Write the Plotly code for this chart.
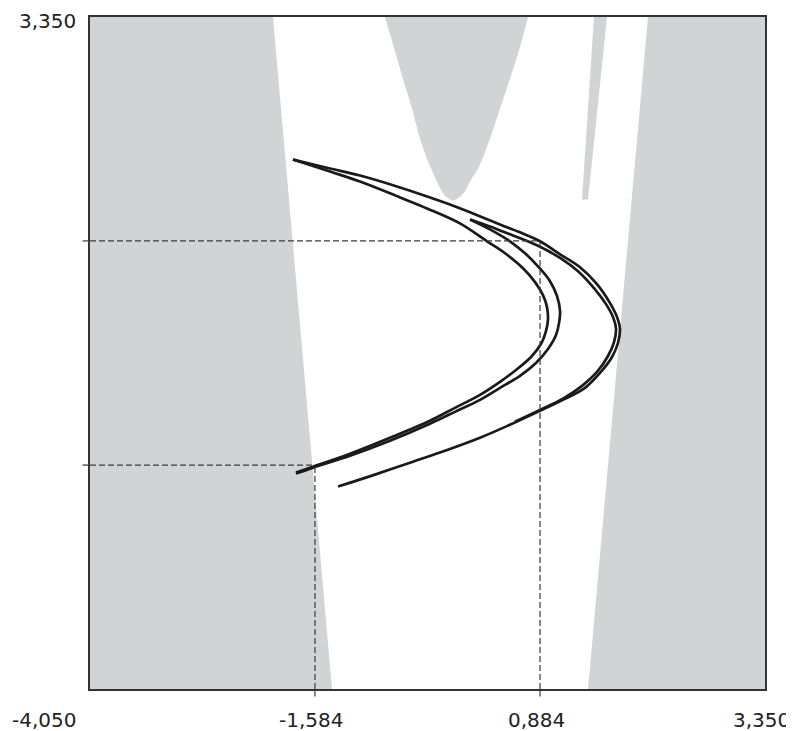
import plotly.graph_objects as go

# Axis range and tick values
axis_min, axis_max = -4.05, 3.35
fixed_pts = [-1.584, 0.884]
x_tick_vals = [-1.584, 0.884, 3.35]
x_tick_text = ["-1,584", "0,884", "3,350"]
corner_label = "-4,050"
y_top_label = "3,350"

# Traced attractor strands (x, y)
c1_x = [-1.825, -1.419, -1.090, -0.651, -0.355, -0.103, 0.149, 0.445, 0.664, 0.883, 1.103, 1.322, 1.508, 1.651,
        1.728, 1.760, 1.738, 1.673, 1.541, 1.377, 1.157, 0.883, 0.554, 0.226, -0.158, -0.509, -0.926, -1.331]
c1_y = [1.780, 1.681, 1.604, 1.473, 1.374, 1.286, 1.187, 1.066, 0.979, 0.880, 0.737, 0.594, 0.408, 0.199,
        0.045, -0.086, -0.240, -0.394, -0.570, -0.734, -0.855, -0.987, -1.140, -1.283, -1.426, -1.547, -1.689, -1.821]

c2_x = [-1.825, -1.419, -1.090, -0.651, -0.355, 0.006, 0.302, 0.500, 0.697, 0.829, 0.916, 0.960, 0.971, 0.949,
        0.894, 0.785, 0.620, 0.445, 0.226, -0.049, -0.323, -0.761, -1.200, -1.605, -1.792]
c2_y = [1.780, 1.648, 1.538, 1.363, 1.242, 1.077, 0.880, 0.748, 0.583, 0.430, 0.287, 0.155, 0.023, -0.108,
        -0.251, -0.394, -0.537, -0.668, -0.811, -0.954, -1.096, -1.283, -1.459, -1.602, -1.667]

c3_x = [0.116, 0.335, 0.554, 0.850, 1.103, 1.300, 1.475, 1.607, 1.684, 1.717, 1.695, 1.629, 1.508, 1.344,
        1.140, 0.883, 0.609]
c3_y = [1.121, 1.044, 0.957, 0.836, 0.697, 0.550, 0.364, 0.188, 0.045, -0.086, -0.229, -0.383, -0.559, -0.712,
        -0.850, -0.976, -1.107]

c4_x = [0.116, 0.335, 0.554, 0.719, 0.861, 0.993, 1.070, 1.103, 1.092, 1.059, 0.971, 0.839, 0.664, 0.445,
        0.226, -0.049, -0.323, -0.761, -1.200, -1.605, -1.792]
c4_y = [1.121, 1.012, 0.880, 0.748, 0.605, 0.441, 0.276, 0.111, -0.021, -0.152, -0.306, -0.460, -0.602, -0.734,
        -0.866, -0.998, -1.129, -1.316, -1.481, -1.612, -1.678]

# Grey regions (x, y)
left_x = [-4.05, -2.044, -1.397, -4.05]
left_y = [3.35, 3.35, -4.05, -4.05]
right_x = [2.067, 3.35, 3.35, 1.410]
right_y = [3.35, 3.35, -4.05, -4.05]
cup_x = [-0.816, -0.720, -0.619, -0.520, -0.432, -0.344, -0.246, -0.191, -0.136, -0.070, -0.005, 0.061, 0.116,
         0.226, 0.335, 0.445, 0.554, 0.664, 0.752]
cup_y = [3.35, 3.021, 2.669, 2.340, 2.011, 1.758, 1.538, 1.429, 1.363, 1.330, 1.363, 1.429, 1.538,
         1.725, 2.011, 2.340, 2.669, 3.021, 3.35]
sliver_x = [1.475, 1.618, 1.410, 1.344]
sliver_y = [3.35, 3.35, 1.341, 1.341]

GREY = "#d1d3d4"
INK = "#1a1a1a"
FONT = dict(family="DejaVu Sans", size=20, color="#222222")

fig = go.Figure()

# grey escape regions as filled traces (drawn first, below curves)
for gx, gy, shp in [(left_x, left_y, "linear"), (right_x, right_y, "linear"),
                    (cup_x, cup_y, "spline"), (sliver_x, sliver_y, "linear")]:
    fig.add_trace(go.Scatter(x=gx, y=gy, mode="lines", fill="toself", fillcolor=GREY,
                             line=dict(width=0, color=GREY, shape=shp), hoverinfo="skip", showlegend=False))

shapes = []
dash = dict(color="#3a3a3a", width=1.2, dash="6px,3px")
solid = dict(color="#3a3a3a", width=1.2)
ext = -0.011
for v in fixed_pts:
    shapes.append(dict(type="line", xref="paper", yref="y", x0=ext, x1=0, y0=v, y1=v, line=solid, layer="above"))
    shapes.append(dict(type="line", xref="x", yref="y", x0=axis_min, x1=v, y0=v, y1=v, line=dash, layer="above"))
    shapes.append(dict(type="line", xref="x", yref="paper", x0=v, x1=v, y0=ext, y1=0, line=solid, layer="above"))
    shapes.append(dict(type="line", xref="x", yref="y", x0=v, x1=v, y0=axis_min, y1=v, line=dash, layer="above"))

for cx, cy in [(c1_x, c1_y), (c2_x, c2_y), (c3_x, c3_y), (c4_x, c4_y)]:
    fig.add_trace(go.Scatter(x=cx, y=cy, mode="lines", line=dict(color=INK, width=2.7, shape="spline"),
                             hoverinfo="skip", showlegend=False))

annotations = []
for v, t in zip(x_tick_vals, x_tick_text):
    annotations.append(dict(x=v, xref="x", y=0, yref="paper", yanchor="top", yshift=-17, xshift=-4,
                            text=t, showarrow=False, font=FONT))
annotations.append(dict(x=0, xref="paper", xanchor="right", xshift=-12, y=0, yref="paper", yanchor="top",
                        yshift=-17, text=corner_label, showarrow=False, font=FONT))
annotations.append(dict(x=0, xref="paper", xanchor="right", xshift=-12, y=axis_max, yref="y",
                        yanchor="middle", yshift=-4, text=y_top_label, showarrow=False, font=FONT))

axis_common = dict(range=[axis_min, axis_max], showgrid=False, zeroline=False, showline=True, mirror=True,
                   linecolor="#333333", linewidth=2, showticklabels=False, ticks="")

fig.update_layout(
    width=786, height=723,
    margin=dict(l=82, r=29, t=7, b=42),
    paper_bgcolor="white", plot_bgcolor="white",
    xaxis=axis_common, yaxis=axis_common,
    shapes=shapes, annotations=annotations,
    showlegend=False,
)

fig.write_html("out.html")
